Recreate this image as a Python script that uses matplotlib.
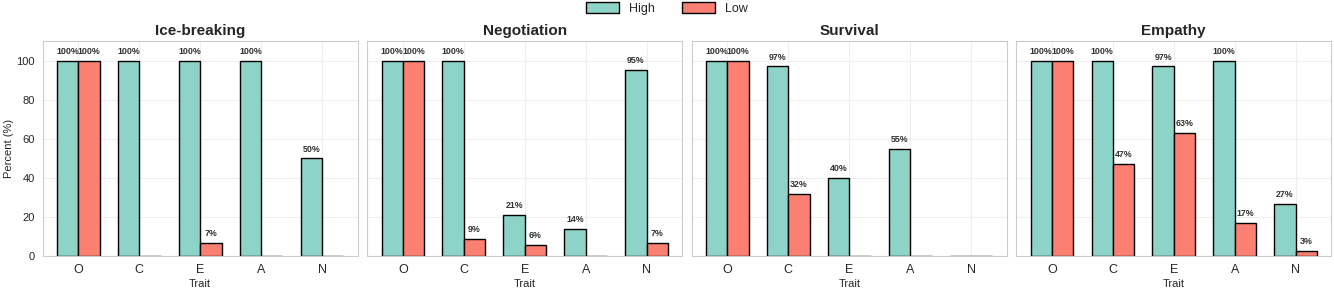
import matplotlib
matplotlib.use('Agg')
import matplotlib.pyplot as plt
import numpy as np
import seaborn as sns

sns.set_style('whitegrid')
plt.rcParams['font.family'] = ['Liberation Sans', 'DejaVu Sans']

traits = ['O', 'C', 'E', 'A', 'N']
scenarios = ['Ice-breaking', 'Negotiation', 'Survival', 'Empathy']
high_ice = [100, 100, 100, 100, 50]
low_ice = [100, 0, 6.7, 0, 0]
high_neg = [100, 100, 21, 14, 95]
low_neg = [100, 9, 6, 0, 7]
high_surv = [100, 97, 40, 55, 0]
low_surv = [100, 32, 0, 0, 0]
high_emp = [100, 100, 97, 100, 27]
low_emp = [100, 47, 63, 17, 3]

highs = [high_ice, high_neg, high_surv, high_emp]
lows = [low_ice, low_neg, low_surv, low_emp]

c_high = '#8dd3c7'
c_low = '#fb8072'
w = 0.35
x = np.arange(len(traits))

fig, axes = plt.subplots(1, 4, figsize=(13.34, 2.93), dpi=100, sharey=True)
fig.subplots_adjust(left=0.032, right=0.998, top=0.86, bottom=0.125, wspace=0.03)

for ax, name, hi, lo in zip(axes, scenarios, highs, lows):
    b1 = ax.bar(x - w/2, hi, w, color=c_high, edgecolor='black', linewidth=1, label='High')
    b2 = ax.bar(x + w/2, lo, w, color=c_low, edgecolor='black', linewidth=1, label='Low')
    for bars in (b1, b2):
        for b in bars:
            h = b.get_height()
            if h > 0:
                ax.text(b.get_x() + b.get_width()/2, h + 2.5, f'{h:.0f}%',
                        ha='center', va='bottom', fontsize=6.4, fontweight='bold', color='#333333')
    ax.set_title(name, fontsize=11, fontweight='bold', pad=4)
    ax.set_xticks(x)
    ax.set_xticklabels(traits, fontsize=9)
    ax.set_xlabel('Trait', fontsize=8, labelpad=2)
    ax.set_ylim(0, 110)
    ax.tick_params(axis='y', labelsize=8)
    ax.tick_params(axis='both', pad=2)
    for s in ax.spines.values():
        s.set_color('#cccccc')
    ax.grid(True, color='#eeeeee')

axes[0].set_ylabel('Percent (%)', fontsize=8, labelpad=2)
handles, labels = axes[0].get_legend_handles_labels()
fig.legend(handles, labels, loc='upper center', ncol=2, frameon=False,
           fontsize=9, bbox_to_anchor=(0.5, 1.03), columnspacing=2.2,
           handlelength=2.6, handleheight=0.9)

fig.savefig('out.png', dpi=100)
